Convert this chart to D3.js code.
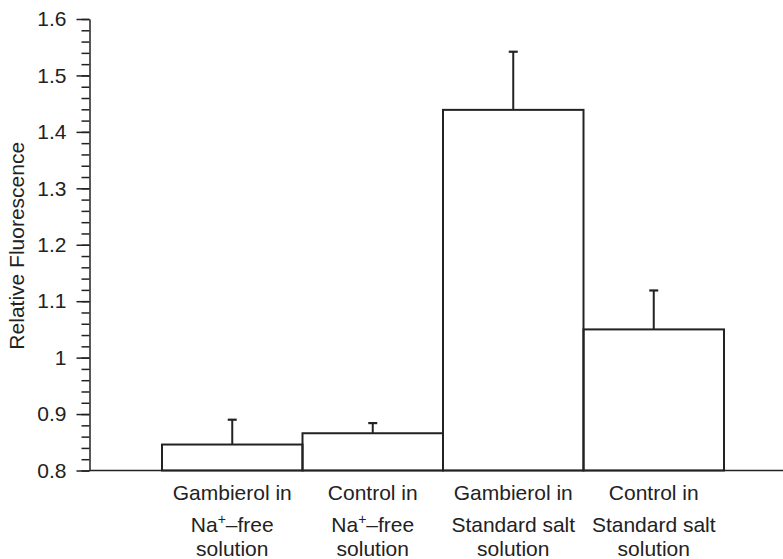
<!DOCTYPE html>
<html>
<head>
<meta charset="utf-8">
<script src="https://cdn.jsdelivr.net/npm/d3@7"></script>
<style>
  html, body { margin: 0; padding: 0; background: #fff; }
  svg { display: block; }
  text { font-family: "Liberation Sans", Arial, Helvetica, sans-serif; fill: #222; }
</style>
</head>
<body>
<svg id="chart" width="783" height="559"></svg>
<script>
// ---- data ----
const categories = ["Gambierol Na-free", "Control Na-free", "Gambierol standard", "Control standard"];
const labelLine1 = ["Gambierol in", "Control in", "Gambierol in", "Control in"];
const labelLine2 = ["Na+–free", "Na+–free", "Standard salt", "Standard salt"];
const labelLine3 = ["solution", "solution", "solution", "solution"];
const means = [0.846, 0.866, 1.439, 1.050];
const errUpper = [0.890, 0.884, 1.542, 1.119];
const yTicks = [0.8, 0.9, 1, 1.1, 1.2, 1.3, 1.4, 1.5, 1.6];
const yTitle = "Relative Fluorescence";

// ---- layout ----
const svg = d3.select("#chart");
const ink = "#222";
const axisX = 89.5;
const yBase = 0.8;
const fs = 21;

const y = d3.scaleLinear().domain([0.8, 1.6]).range([470.5, 19]);
const x = d3.scaleBand().domain(categories).range([162, 724]).padding(0);

// minor ticks
const minorTicks = d3.range(0.8, 1.6001, 0.02).map(v => Math.round(v * 100) / 100);
const minorAxis = d3.axisLeft(y).tickValues(minorTicks).tickSize(8).tickSizeOuter(0).tickFormat("");
const gMinor = svg.append("g").attr("transform", `translate(${axisX},0)`).call(minorAxis);
gMinor.select(".domain").remove();
gMinor.selectAll("line").attr("stroke", ink).attr("stroke-width", 1.5);

// major axis
const majorAxis = d3.axisLeft(y).tickValues(yTicks).tickSize(13).tickSizeOuter(0).tickPadding(10)
  .tickFormat(d => String(d));
const gMajor = svg.append("g").attr("transform", `translate(${axisX},0)`).call(majorAxis);
gMajor.select(".domain").attr("stroke", ink).attr("stroke-width", 1.5);
gMajor.selectAll("line").attr("stroke", ink).attr("stroke-width", 1.5);
gMajor.selectAll("text").attr("font-size", fs).attr("fill", ink)
  .attr("font-family", "'Liberation Sans', Arial, sans-serif");

// x axis baseline
svg.append("line")
  .attr("x1", axisX).attr("x2", 783)
  .attr("y1", y(yBase)).attr("y2", y(yBase))
  .attr("stroke", ink).attr("stroke-width", 1.5);

// error bars
const capHalf = 4.5;
categories.forEach((c, i) => {
  const cx = x(c) + x.bandwidth() / 2;
  svg.append("line").attr("x1", cx).attr("x2", cx)
    .attr("y1", y(means[i])).attr("y2", y(errUpper[i]))
    .attr("stroke", ink).attr("stroke-width", 2);
  svg.append("line").attr("x1", cx - capHalf).attr("x2", cx + capHalf)
    .attr("y1", y(errUpper[i])).attr("y2", y(errUpper[i]))
    .attr("stroke", ink).attr("stroke-width", 2.2);
});

// bars
svg.selectAll("rect.bar").data(categories).enter().append("rect")
  .attr("class", "bar")
  .attr("x", d => x(d))
  .attr("width", x.bandwidth())
  .attr("y", (d, i) => y(means[i]))
  .attr("height", (d, i) => y(yBase) - y(means[i]))
  .attr("fill", "none")
  .attr("stroke", ink)
  .attr("stroke-width", 2);

// category labels
categories.forEach((c, i) => {
  const cx = x(c) + x.bandwidth() / 2;
  svg.append("text").attr("x", cx).attr("y", 500).attr("text-anchor", "middle")
    .attr("font-size", fs).text(labelLine1[i]);
  const t2 = svg.append("text").attr("x", cx).attr("y", 532).attr("text-anchor", "middle")
    .attr("font-size", fs);
  const l2 = labelLine2[i];
  if (l2.startsWith("Na+")) {
    t2.append("tspan").text("Na");
    t2.append("tspan").attr("font-size", 14).attr("dy", -8).text("+");
    t2.append("tspan").attr("dy", 8).text(l2.slice(3));
  } else {
    t2.text(l2);
  }
  svg.append("text").attr("x", cx).attr("y", 556).attr("text-anchor", "middle")
    .attr("font-size", fs).text(labelLine3[i]);
});

// y title
svg.append("text")
  .attr("transform", `translate(24,${(y(0.8) + y(1.6)) / 2 + 1}) rotate(-90)`)
  .attr("text-anchor", "middle")
  .attr("font-size", fs)
  .text(yTitle);
</script>
</body>
</html>
